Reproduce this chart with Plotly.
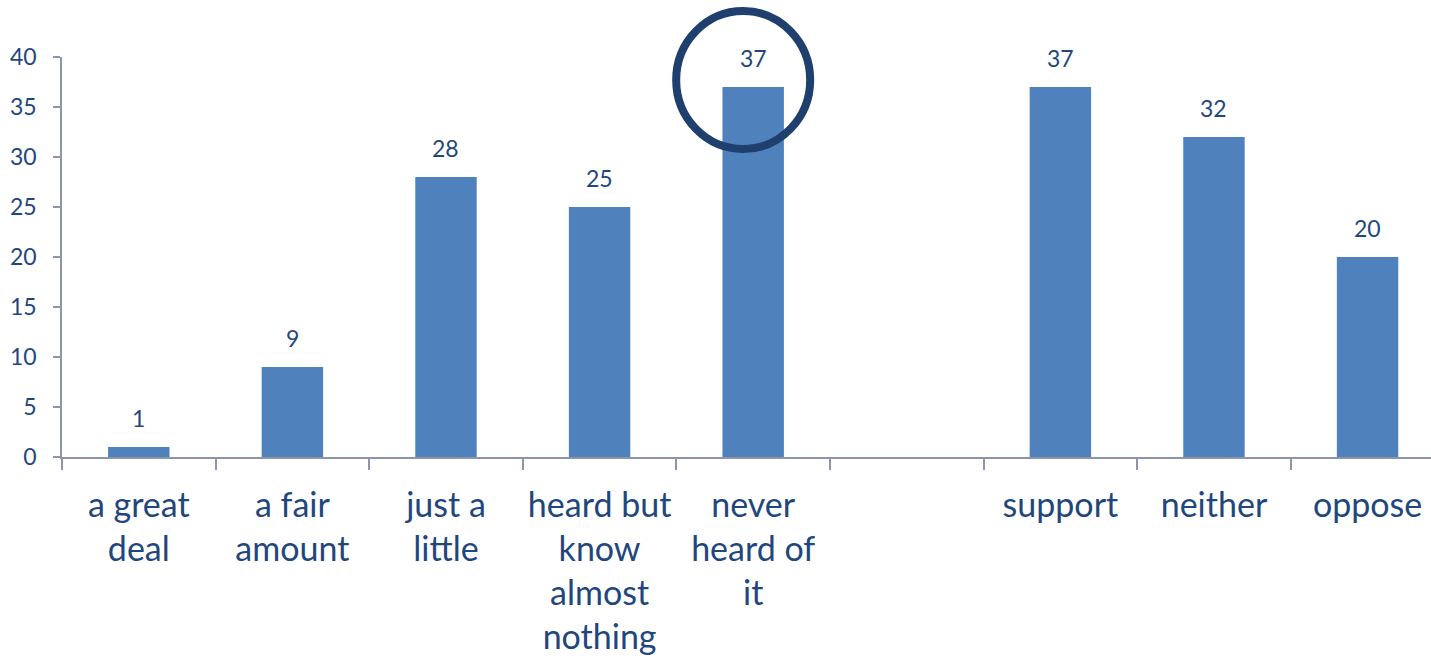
import plotly.graph_objects as go

categories = ["a great<br>deal", "a fair<br>amount", "just a<br>little",
              "heard but<br>know<br>almost<br>nothing", "never<br>heard of<br>it",
              " ", "support", "neither", "oppose"]
values = [1, 9, 28, 25, 37, None, 37, 32, 20]
labels = ["1", "9", "28", "25", "37", "", "37", "32", "20"]
highlight_index = 4

TEXT = "#1F477D"
AXIS = "#8C96AB"
BAR = "#4F81BD"
FONT = "Lato"

xmin, xmax = -0.5, 8.413
ymin, ymax = 0, 40

fig = go.Figure()
fig.add_trace(go.Bar(
    x=categories, y=values, marker=dict(color=BAR, line=dict(width=0)),
    width=0.4, hoverinfo="skip"))

for c, v, t in zip(categories, values, labels):
    if v is None:
        continue
    fig.add_annotation(x=c, y=v, text=t, showarrow=False, yanchor="bottom",
                       yshift=13, font=dict(size=23, color=TEXT, family=FONT))

# highlight circle around the "never heard of it" bar
hx = (highlight_index - xmin) / (xmax - xmin)
hy = (values[highlight_index] - ymin) / (ymax - ymin)
fig.add_shape(type="circle", xref="paper", yref="paper",
              xsizemode="pixel", ysizemode="pixel",
              xanchor=hx, yanchor=hy,
              x0=-10 - 67, x1=-10 + 67, y0=7 - 69, y1=7 + 69,
              line=dict(color="#1F3F6E", width=8), layer="above")

fig.update_layout(
    width=1431, height=659,
    margin=dict(l=62, r=0, t=57, b=202),
    paper_bgcolor="white", plot_bgcolor="white",
    showlegend=False, bargap=0.6,
    font=dict(family=FONT, color=TEXT),
)
fig.update_xaxes(
    type="category", range=[xmin, xmax],
    tickson="boundaries", ticks="outside", ticklen=11, tickcolor=AXIS, tickwidth=1.5,
    showline=True, linecolor=AXIS, linewidth=1.5, showgrid=False, zeroline=False,
    tickfont=dict(size=34, color=TEXT, family=FONT), tickangle=0,
    ticklabelstandoff=17,
)
fig.update_yaxes(
    range=[ymin, ymax], tickvals=[0, 5, 10, 15, 20, 25, 30, 35, 40],
    ticks="outside", ticklen=7, tickcolor=AXIS, tickwidth=1.5,
    showline=True, linecolor=AXIS, linewidth=1.5, showgrid=False, zeroline=False,
    tickfont=dict(size=23, color=TEXT, family=FONT), ticklabelstandoff=12,
)

fig.write_html("out.html")
